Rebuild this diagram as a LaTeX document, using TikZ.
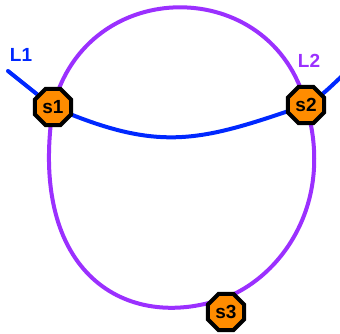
\documentclass[tikz,border=0pt]{standalone}
\usepackage{fontspec}
\setmainfont{Liberation Sans}
\usetikzlibrary{shapes.geometric,backgrounds}
\definecolor{vio}{RGB}{155,48,255}
\definecolor{blu}{RGB}{0,40,255}
\definecolor{org}{RGB}{255,140,0}
\begin{document}
\begin{tikzpicture}[x=1pt,y=-1pt,
  station/.style={regular polygon,regular polygon sides=8,minimum size=39pt,inner sep=0pt,
    fill=org,draw=black,line width=4pt,font=\fontsize{19}{19}\selectfont\bfseries},
  vline/.style={draw=vio,line width=4pt},
  bline/.style={draw=blu,line width=4pt,line cap=round},
  lbl/.style={font=\fontsize{19}{19}\selectfont\bfseries,inner sep=0pt}]
\useasboundingbox (0,0) rectangle (340,334);
\node[station] (s1) at (53,107) {s1};
\node[station] (s2) at (306,105) {s2};
\node[station] (s3) at (226,312) {s3};
\coordinate (p3) at (222,299);
\coordinate (l1) at (8,71);
\coordinate (l2) at (342,76);
\node[lbl,text=blu] (t1) at (21,55) {L1};
\node[lbl,text=vio] (t2) at (309,61) {L2};
\begin{scope}[on background layer]
  \draw[vline] (s1.center) .. controls (86.8,-25.6) and (272.2,-25.6) .. (s2.center)
    .. controls (336,205) and (278.7,279.4) .. (p3)
    .. controls (127.5,331.6) and (27.5,275) .. (s1.center);
  \draw[bline] (l1) -- (s1.center) .. controls (160,153) and (199,142) .. (s2.center)
    .. controls (322,95) .. (l2);
\end{scope}
\end{tikzpicture}
\end{document}
